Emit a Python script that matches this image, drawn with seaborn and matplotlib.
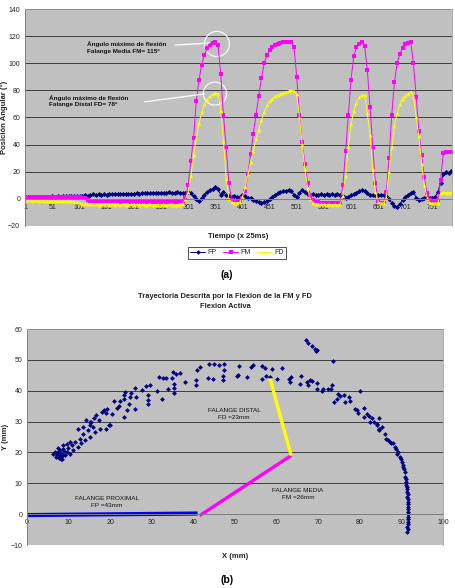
import numpy as np
import pandas as pd
import matplotlib
matplotlib.use('Agg')
import matplotlib.pyplot as plt
import seaborn as sns
from matplotlib.lines import Line2D
from matplotlib.patches import Ellipse

# ---------------- DATA (a) : angular position vs time ----------------
muestra = np.arange(1, 787, 5)          # sample index (x 25 ms), every 5th sample

FP = [1.0, 1.2, 0.8, 1.3, 1.0, 1.5, 1.2, 1.6, 1.3, 1.5,
      1.8, 1.6, 2.0, 1.7, 2.1, 1.9, 2.2, 2.0, 2.3, 2.1,
      2.4, 2.2, 2.6, 2.3, 2.8, 3.5, 3.0, 3.3, 3.1, 3.4,
      3.2, 3.5, 3.3, 3.6, 3.4, 3.7, 3.5, 3.8, 3.6, 3.9,
      3.9, 4.2, 3.8, 4.3, 4.0, 4.4, 4.1, 4.5, 4.2, 4.6,
      4.4, 4.7, 4.5, 4.8, 4.4, 4.6, 4.9, 4.5, 4.7, 4.6,
      5.0, 4.0, 2.0, 0.0, -1.5, 0.5, 3.0, 5.0, 6.5, 7.5,
      8.4, 7.0, 3.0, 5.0, 2.5, 2.0, 1.5, 1.8, 1.2, 1.5,
      3.0, 2.0, 1.0, 0.5, -0.5, -1.5, -2.2, -2.7, -2.5, -1.5,
      0.0, 1.5, 3.0, 4.0, 5.0, 5.5, 6.0, 6.5, 6.0, 3.0,
      1.5, 4.0, 6.5, 5.0, 3.5, 3.0, 3.5, 3.0, 3.2, 3.6,
      3.0, 3.4, 3.2, 3.8, 3.0, 3.5, 3.0, 2.0, 1.0, 1.5,
      2.5, 3.5, 4.5, 5.5, 6.5, 6.0, 4.0, 3.0, 2.5, 3.0,
      2.5, 3.0, 2.5, 2.0, 0.0, -3.0, -5.5, -6.0, -4.0, -1.0,
      1.5, 3.0, 4.5, 5.0, 1.0, -1.0, 0.0, 1.0, 1.2, 0.8,
      1.0, 1.5, 5.0, 12.0, 18.0, 19.5, 19.0, 20.5]

FM = [1.2, 1.0, 1.3, 1.1, 1.4, 1.2, 1.5, 1.3, 1.2, 1.4,
      1.3, 1.5, 1.2, 1.4, 1.3, 1.6, 1.4, 1.2, 1.5, 1.3,
      1.2, 1.0, 0.5, -0.5, -1.5, -1.8, -1.5, -1.7, -1.6, -1.8,
      -1.7, -1.9, -1.6, -1.8, -1.7, -2.0, -1.8, -1.9, -1.7, -2.0,
      -1.8, -2.0, -1.9, -2.1, -1.8, -2.0, -1.9, -2.1, -2.0, -1.9,
      -2.0, -1.9, -2.1, -2.0, -1.9, -2.1, -2.0, -1.8, -1.5, 0.5,
      10, 28, 45, 72, 88, 99, 106, 111, 113.5, 115,
      115.5, 113.5, 92, 62, 38, 12, -1.0, -1.5, -1.8, -1.5,
      1.0, 6, 18, 33, 48, 62, 76, 89, 100, 106,
      110, 112, 113.5, 114.5, 115, 115.3, 115.5, 115.5, 115.7, 112,
      90, 62, 42, 26, 12, 3, -1, -2.0, -2.5, -2.8,
      -3.0, -3.2, -3.0, -3.3, -3.1, -3.2, -3.0, 10, 35, 62,
      88, 105, 112, 114.5, 115.5, 113, 95, 68, 38, 12,
      -1.5, -3.0, -3.2, 5, 30, 62, 86, 100, 107, 111,
      114, 115, 115.5, 100, 75, 50, 32, 16, 4, -1,
      -1.5, -1.2, -1.0, 14, 34, 34.3, 34.2, 34.3]

FD = [-0.5, -1.0, -0.8, -1.2, -1.0, -1.3, -1.1, -1.4, -1.2, -1.5,
      -1.3, -1.5, -1.4, -1.6, -1.5, -1.7, -1.5, -1.8, -2.0, -2.5,
      -3.0, -3.5, -3.8, -4.0, -3.8, -4.1, -3.9, -4.2, -4.0, -4.1,
      -4.0, -4.2, -4.1, -4.3, -4.0, -4.2, -4.1, -4.3, -4.2, -4.0,
      -4.2, -4.1, -4.3, -4.0, -4.2, -4.3, -4.1, -4.2, -4.4, -4.2,
      -4.3, -4.2, -4.4, -4.1, -4.3, -4.2, -4.4, -4.3, -3.5, 0.0,
      5, 17, 32, 45, 56, 64, 70, 73.5, 75.5, 77,
      78, 77.5, 65, 43, 15, 0, -2.5, -3.0, -2.8, -2.5,
      1.5, 9, 18, 27, 35.5, 44, 51, 58, 64, 69,
      72, 74, 75.5, 76.5, 77.5, 78, 78.8, 79.5, 80, 79.5,
      77, 60, 40, 22, 8, 0, -3.0, -3.5, -3.8, -4.0,
      -4.0, -4.2, -4.1, -4.3, -4.0, -4.2, -3.8, 2, 17, 38,
      55, 65, 71, 75, 76.5, 76.5, 63, 47, 22, 5,
      -2.5, -3.0, -3.2, 1, 20, 38, 54, 63, 70, 74,
      76, 77.5, 79, 76, 60, 46, 26, 10, 1, -3,
      -3.2, -3.0, -2.8, 4.5, 4.8, 4.6, 4.7, 4.8]

series = ['FP', 'FM', 'FD']
x_ticks_a = [1, 51, 101, 151, 201, 251, 301, 351, 401, 451, 501, 551, 601, 651, 701, 751]
y_ticks_a = [-20, 0, 20, 40, 60, 80, 100, 120, 140]

# ---------------- DATA (b) : trajectory ----------------
tray_x = [6.3, 7.1, 7.5, 7.5, 7.9, 7.9, 8.3, 8.3, 8.7, 8.7, 9.1, 9.5, 9.5, 9.9, 10.3, 10.3,
          10.7, 11.1, 11.5, 12.3, 12.7, 13.1, 13.5, 13.9, 14.7, 15.1, 15.9, 16.3, 17.5, 19.1,
          19.9, 15.1, 7.0, 7.3, 8.0, 8.5, 8.1, 7.7, 9.0, 6.8,
          12.3, 13.5, 14.3, 15.1, 15.5, 16.1, 16.7, 17.4, 18.0, 18.4, 19.0, 19.3, 19.6, 20.4,
          21.0, 21.6, 22.0, 22.4, 23.2, 23.4, 23.6, 23.3, 24.0, 24.4, 24.8, 25.0, 26.0, 26.0,
          26.2, 27.6, 28.5, 29.2, 29.2, 29.2, 29.6, 31.2, 31.8, 32.4, 32.6, 33.3, 33.8, 34.8,
          35.2, 35.4, 35.3, 35.3, 35.9, 36.8, 38.0, 40.8, 41.6, 40.6, 40.6, 43.7, 45.0, 46.2,
          47.4, 47.4, 47.2, 47.2, 43.6, 44.6, 50.4, 50.8,
          51.0, 52.8, 53.8, 54.4, 56.4, 57.2, 56.6, 57.5, 58.3, 59.0, 60.2, 61.2, 63.0, 63.4,
          63.2, 65.8, 65.6, 67.4, 68.0, 68.4, 67.6, 69.8, 69.6, 70.8, 71.2, 72.4, 73.2, 73.0,
          73.5, 67.1, 67.6, 68.4, 69.2, 69.8, 69.5, 74.8, 74.6, 75.2, 76.1, 76.4, 77.4, 77.6,
          73.8, 78.8, 79.4, 79.6, 80.0, 80.9, 80.9, 81.8, 82.1, 82.9, 83.3, 84.1, 84.7, 85.3,
          84.5,
          82.5, 84.1, 84.5, 86.0, 86.4, 87.2, 88.0, 88.4, 89.3, 89.7, 90.1, 90.5, 90.9, 90.9,
          91.1, 91.3, 91.4, 91.4, 91.6, 91.6, 91.6, 91.6, 91.6, 91.4, 91.4,
          86.8, 87.6, 88.8, 89.0, 89.9, 90.3, 90.7, 91.0, 91.2, 91.3, 91.5, 91.5, 91.7, 91.7,
          91.7, 91.7, 91.6, 91.5]
tray_y = [19.6, 19.1, 20.2, 21.3, 18.6, 19.6, 19.6, 18.0, 21.2, 22.3, 19.1, 20.2, 22.8, 21.3, 19.6, 23.4,
          22.3, 20.7, 23.4, 21.8, 24.5, 22.9, 26.1, 24.0, 27.2, 25.0, 28.3, 26.6, 27.7, 27.7,
          28.8, 29.9, 18.5, 19.8, 20.8, 19.0, 17.8, 18.2, 20.5, 20.0,
          27.7, 28.3, 30.6, 28.8, 29.9, 31.3, 32.0, 30.4, 33.1, 33.9, 32.7, 34.1, 28.8, 32.5,
          36.6, 34.5, 34.9, 36.7, 37.4, 38.5, 39.5, 31.4, 33.6, 35.8, 37.9, 39.2, 41.0, 34.2,
          37.9, 40.1, 41.4, 38.5, 37.1, 35.8, 41.9, 39.8, 44.5, 37.4, 44.0, 44.1, 40.5, 44.0,
          46.1, 42.1, 41.0, 39.4, 45.3, 45.6, 42.7, 46.7, 47.8, 43.4, 41.9, 48.6, 48.7, 48.4,
          48.6, 46.7, 44.8, 43.5, 44.1, 43.9, 44.8, 45.0,
          47.9, 44.5, 47.7, 48.2, 47.9, 47.5, 43.9, 44.7, 44.4, 47.1, 43.9, 47.3, 43.9, 44.6,
          42.8, 44.8, 42.1, 42.8, 43.6, 43.1, 41.7, 42.5, 40.4, 39.9, 40.4, 40.7, 41.7, 40.4,
          49.5, 56.3, 55.4, 54.4, 53.6, 53.3, 52.9, 38.8, 37.4, 38.2, 38.7, 36.4, 38.0, 36.7,
          36.4, 34.2, 33.6, 32.8, 40.0, 34.5, 31.5, 32.6, 31.7, 31.0, 29.9, 29.2, 31.3, 28.1,
          27.5,
          29.9, 28.8, 27.4, 26.1, 24.5, 23.4, 22.9, 21.8, 20.2, 18.6, 16.9, 15.3, 13.7, 12.1,
          10.5, 8.8, 7.2, 5.6, 4.0, 2.4, 0.8, -0.9, -2.5, -4.1, -5.7,
          24.0, 23.0, 21.0, 19.5, 17.8, 16.0, 14.5, 11.3, 9.6, 8.0, 6.4, 4.8, 3.2, 1.6,
          0.0, -1.7, -3.3, -4.8]

falange_prox_x, falange_prox_y = [0, 41], [-0.3, 0.2]
falange_media_x, falange_media_y = [41.5, 63.5], [-0.5, 19.0]
falange_distal_x, falange_distal_y = [63.5, 58.4], [19.0, 44.0]

# ---------------- FIGURE ----------------
sns.set_theme(style='white')
plt.rcParams['font.family'] = ['Liberation Sans', 'DejaVu Sans']

W, H = 456, 588
fig = plt.figure(figsize=(W / 100, H / 100), dpi=100)


def fx(px):
    return px / W


def fy(py):
    return 1 - py / H


GRID = '#3c3c3c'
BG = '#C0C0C0'
TXT = '#222222'

# ----- (a) -----
ax1 = fig.add_axes([fx(25), fy(226), fx(452) - fx(25), fy(9) - fy(226)])
ax1.set_facecolor(BG)
df = pd.DataFrame({
    't': np.concatenate([muestra, muestra, muestra]),
    'v': FP + FM + FD,
    'serie': ['FP'] * len(FP) + ['FM'] * len(FM) + ['FD'] * len(FD),
})
pal = {'FP': '#000080', 'FM': '#FF00FF', 'FD': '#FFFF00'}
mk = {'FP': 'D', 'FM': 's', 'FD': '^'}
sns.lineplot(data=df, x='t', y='v', hue='serie', style='serie', hue_order=series,
             style_order=series, palette=pal, markers=mk, dashes=False,
             estimator=None, linewidth=0.7, markersize=2.6, markeredgewidth=0,
             legend=False, ax=ax1)
ax1.set_xlim(0.5, 787)
ax1.set_ylim(-20, 140)
ax1.set_yticks(y_ticks_a)
ax1.set_xticks(x_ticks_a)
ax1.spines['bottom'].set_position(('data', 0))
for s in ['left', 'bottom']:
    ax1.spines[s].set_color('#808080')
    ax1.spines[s].set_linewidth(0.7)
for s in ['top', 'right']:
    ax1.spines[s].set_color('#a0a0a0')
    ax1.spines[s].set_linewidth(0.6)
ax1.yaxis.grid(True, color=GRID, lw=0.7)
ax1.xaxis.grid(False)
ax1.set_axisbelow(True)
ax1.tick_params(axis='both', labelsize=5, colors='#808080', labelcolor=TXT,
                length=2, width=0.6, direction='out', pad=1.5)
ax1.set_xlabel('')
ax1.set_ylabel('')

# annotations
ax1.text(115, 111.5, 'Ángulo máximo de flexión\nFalange Media FM= 115º', fontsize=4.6,
         fontweight='bold', color='#111111', ha='left', va='center', linespacing=1.45)
ax1.text(45, 72.2, 'Ángulo máximo de flexión\nFalange Distal FD= 78º', fontsize=4.6,
         fontweight='bold', color='#111111', ha='left', va='center', linespacing=1.45)
ax1.annotate('', xy=(344.8, 115), xytext=(271.7, 113.3),
             arrowprops=dict(arrowstyle='-', color='white', lw=0.9))
ax1.annotate('', xy=(335.6, 77.6), xytext=(215.9, 71.3),
             arrowprops=dict(arrowstyle='-', color='white', lw=0.9))
ax1.add_patch(Ellipse((354, 114.2), 46, 18.5, fill=False, ec='white', lw=0.8))
ax1.add_patch(Ellipse((350.4, 77.6), 43, 17.0, fill=False, ec='white', lw=0.8))

fig.text(fx(238), fy(236.5), 'Tiempo (x 25ms)', fontsize=5.5, fontweight='bold',
         ha='center', va='center', color=TXT)
fig.text(fx(4), fy(117.5), 'Posición Angular (°)', fontsize=5.5, fontweight='bold',
         rotation=90, ha='center', va='center', color=TXT)

handles = [Line2D([], [], color=pal[s], marker=mk[s], markersize=2.4, lw=0.7,
                  markeredgewidth=0) for s in series]
leg = fig.legend(handles, series, loc='center', bbox_to_anchor=(fx(237), fy(253)),
                 ncol=3, fontsize=5, frameon=True, fancybox=False, handlelength=2.2,
                 handletextpad=0.3, columnspacing=0.9, borderpad=0.35)
leg.get_frame().set_edgecolor('black')
leg.get_frame().set_linewidth(0.6)
for t in leg.get_texts():
    t.set_color(TXT)

fig.text(fx(226.5), fy(275), '(a)', fontsize=7.5, fontweight='bold', ha='center',
         va='center', color='black')

# ----- (b) -----
fig.text(fx(225), fy(296.5), 'Trayectoria Descrita por la Flexion de la FM y FD',
         fontsize=5.4, fontweight='bold', ha='center', va='center', color=TXT)
fig.text(fx(225), fy(306.5), 'Flexion Activa', fontsize=5.4, fontweight='bold',
         ha='center', va='center', color=TXT)

ax2 = fig.add_axes([fx(27), fy(545), fx(443) - fx(27), fy(329) - fy(545)])
ax2.set_facecolor(BG)
sns.lineplot(x=falange_prox_x, y=falange_prox_y, sort=False, estimator=None,
             color='#0000FF', linewidth=3.0, ax=ax2, solid_capstyle='butt')
sns.lineplot(x=falange_media_x, y=falange_media_y, sort=False, estimator=None,
             color='#FF00FF', linewidth=2.4, ax=ax2, solid_capstyle='butt')
sns.lineplot(x=falange_distal_x, y=falange_distal_y, sort=False, estimator=None,
             color='#FFFF00', linewidth=2.4, ax=ax2, solid_capstyle='butt')
sns.scatterplot(x=tray_x, y=tray_y, color='#000080', marker='D', s=6, linewidth=0,
                legend=False, ax=ax2)
ax2.set_xlim(0, 100)
ax2.set_ylim(-10, 60)
ax2.set_xticks(range(0, 101, 10))
ax2.set_yticks(range(-10, 61, 10))
ax2.spines['bottom'].set_position(('data', 0))
for s in ['left', 'bottom']:
    ax2.spines[s].set_color('#808080')
    ax2.spines[s].set_linewidth(0.7)
for s in ['top', 'right']:
    ax2.spines[s].set_color('#a0a0a0')
    ax2.spines[s].set_linewidth(0.6)
ax2.yaxis.grid(True, color=GRID, lw=0.7)
ax2.xaxis.grid(False)
ax2.set_axisbelow(True)
ax2.tick_params(axis='both', labelsize=5, colors='#808080', labelcolor=TXT,
                length=2, width=0.6, direction='out', pad=1.5)
ax2.set_xlabel('')
ax2.set_ylabel('')

ax2.text(19.2, 4.0, 'FALANGE PROXIMAL\nFP =43mm', fontsize=4.6, ha='center', va='center',
         color='#111111', linespacing=1.5)
ax2.text(65.1, 6.5, 'FALANGE MEDIA\nFM =26mm', fontsize=4.6, ha='center', va='center',
         color='#111111', linespacing=1.5)
ax2.text(49.8, 32.4, 'FALANGE DISTAL\nFD =23mm', fontsize=4.6, ha='center', va='center',
         color='#111111', linespacing=1.5)

fig.text(fx(235), fy(556), 'X (mm)', fontsize=5.5, fontweight='bold', ha='center',
         va='center', color=TXT)
fig.text(fx(6), fy(437), 'Y (mm)', fontsize=5.5, fontweight='bold', rotation=90,
         ha='center', va='center', color=TXT)
fig.text(fx(227.5), fy(580), '(b)', fontsize=7.5, fontweight='bold', ha='center',
         va='center', color='black')

fig.savefig('out.png', dpi=100)
